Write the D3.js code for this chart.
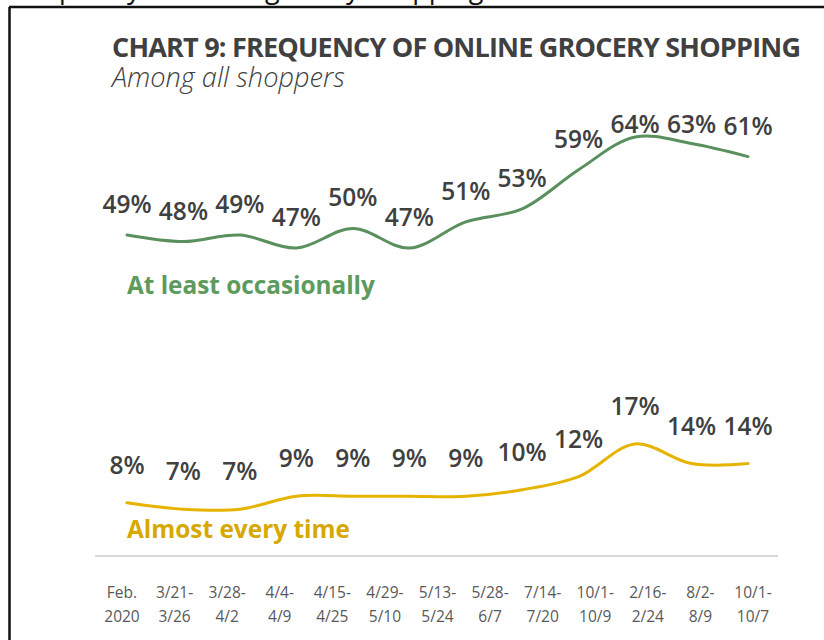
<!DOCTYPE html>
<html><head><meta charset="utf-8">
<script src="https://cdn.jsdelivr.net/npm/d3@7"></script>
<style>body{margin:0;background:#fff}svg{display:block}</style>
</head><body>
<script>
// ---- data ----
const categoryTop = ["Feb.","3/21-","3/28-","4/4-","4/15-","4/29-","5/13-","5/28-","7/14-","10/1-","2/16-","8/2-","10/1-"];
const categoryBottom = ["2020","3/26","4/2","4/9","4/25","5/10","5/24","6/7","7/20","10/9","2/24","8/9","10/7"];
const atLeastOccasionally = [49,48,49,47,50,47,51,53,59,64,63,61];
const almostEveryTime = [8,7,7,9,9,9,9,10,12,17,14,14];
const seriesNames = ["At least occasionally","Almost every time"];
const titleText = "CHART 9: FREQUENCY OF ONLINE GROCERY SHOPPING";
const subtitleText = "Among all shoppers";
const captionText = "frequency of online grocery shopping";

const W = 824, H = 640;
const svg = d3.select("body").append("svg").attr("width", W).attr("height", H);

// cut-off caption above the frame (only descenders visible in the reference)
svg.append("text").attr("x", 14).attr("y", -2)
  .attr("font-family", "Open Sans, sans-serif").attr("font-size", 27).attr("fill", "#111")
  .text(captionText);

// frame
svg.append("line").attr("x1", 9).attr("x2", W).attr("y1", 7).attr("y2", 7).attr("stroke", "#111").attr("stroke-width", 2.5);
svg.append("line").attr("x1", 9.5).attr("x2", 9.5).attr("y1", 7).attr("y2", H).attr("stroke", "#111").attr("stroke-width", 2.5);

// fit a text to a target width: tighten with letter-spacing if too wide, grow font if too narrow
function fitWidth(sel, target) {
  const node = sel.node();
  const n = sel.text().length;
  const w = node.getComputedTextLength();
  if (w > target) {
    sel.attr("letter-spacing", ((target - w) / Math.max(1, n - 1)).toFixed(2) + "px");
  } else {
    const fs = parseFloat(sel.attr("font-size"));
    sel.attr("font-size", (fs * target / w).toFixed(2));
  }
}

// title
const title = svg.append("text").attr("x", 112).attr("y", 57)
  .attr("font-family", "Open Sans, sans-serif").attr("font-weight", 700).attr("font-size", 27)
  .attr("fill", "#404040").text(titleText);
fitWidth(title, 689);
const sub = svg.append("text").attr("x", 112).attr("y", 87)
  .attr("font-family", "Open Sans, sans-serif").attr("font-style", "italic").attr("font-weight", 300).attr("font-size", 22)
  .attr("fill", "#404040").text(subtitleText);
fitWidth(sub, 233);

// scales
const x = d3.scalePoint().domain(d3.range(atLeastOccasionally.length)).range([127, 748]);
const xc = d3.scalePoint().domain(d3.range(categoryTop.length)).range([122, 753]);
const y = d3.scaleLinear().domain([0, 64]).range([555, 137]);

// axis baseline
svg.append("line").attr("x1", 95).attr("x2", 778).attr("y1", y(0) + 1).attr("y2", y(0) + 1)
  .attr("stroke", "#d9d9d9").attr("stroke-width", 2);

// category labels
const cat = svg.append("g").attr("font-family", "Open Sans, sans-serif").attr("font-size", 15.5)
  .attr("fill", "#595959").attr("text-anchor", "middle");
categoryTop.forEach((t, i) => {
  cat.append("text").attr("x", xc(i)).attr("y", 598).text(t);
  cat.append("text").attr("x", xc(i)).attr("y", 622).text(categoryBottom[i]);
});

const line = d3.line().x((d, i) => x(i)).y(d => y(d)).curve(d3.curveCatmullRom.alpha(0.5));

function drawSeries(vals, color, labelOffset, minBaseline) {
  svg.append("path").datum(vals).attr("d", line).attr("fill", "none")
    .attr("stroke", color).attr("stroke-width", 3).attr("stroke-linecap", "round");
  svg.append("g").attr("font-family", "Open Sans, sans-serif").attr("font-weight", 600)
    .attr("font-size", 24.5).attr("fill", "#404040").attr("text-anchor", "middle")
    .selectAll("text").data(vals).join("text")
    .attr("x", (d, i) => x(i))
    .attr("y", d => Math.max(y(d) - labelOffset, minBaseline))
    .text(d => d + "%");
}
drawSeries(atLeastOccasionally, "#5a8f5e", 22, 133);
drawSeries(almostEveryTime, "#e6b400", 29, 0);

// series names
const n1 = svg.append("text").attr("x", 127).attr("y", 294)
  .attr("font-family", "Open Sans, sans-serif").attr("font-weight", 700).attr("font-size", 21)
  .attr("fill", "#5c9a5e").text(seriesNames[0]);
fitWidth(n1, 248);
const n2 = svg.append("text").attr("x", 127).attr("y", 538)
  .attr("font-family", "Open Sans, sans-serif").attr("font-weight", 700).attr("font-size", 21)
  .attr("fill", "#d6a800").text(seriesNames[1]);
fitWidth(n2, 223);
</script>
</body></html>
